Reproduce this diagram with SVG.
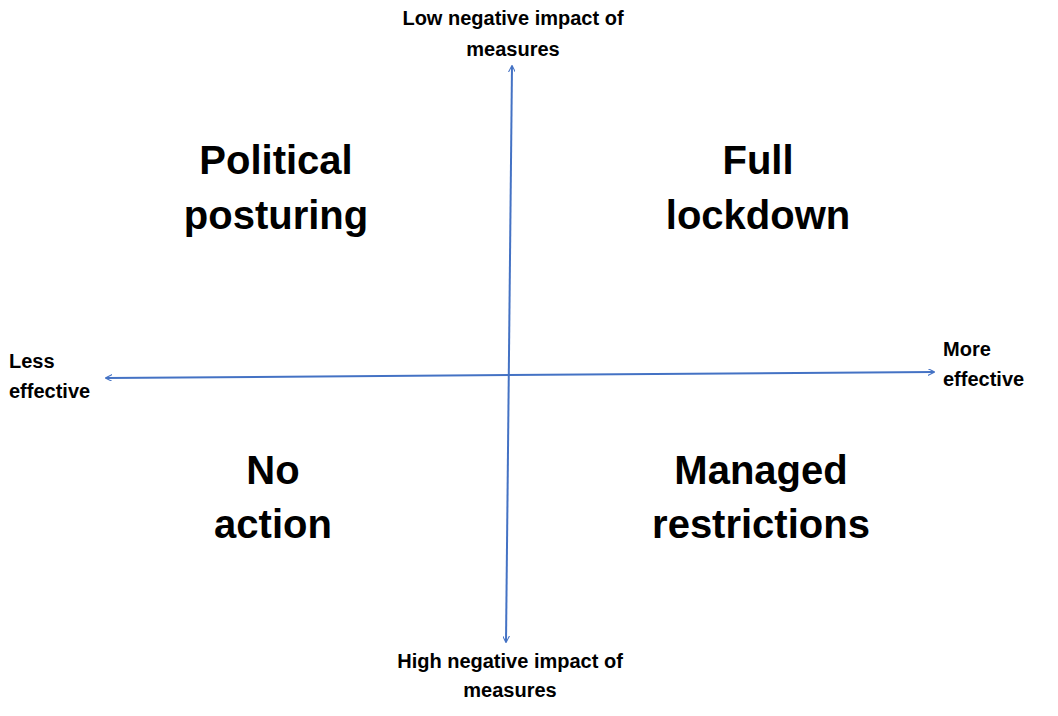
<svg xmlns="http://www.w3.org/2000/svg" width="1058" height="716" viewBox="0 0 1058 716">
<style>
.s{font-family:"Liberation Sans",Arial,sans-serif;font-weight:bold;font-size:20px;fill:#000}
.b{font-family:"Liberation Sans",Arial,sans-serif;font-weight:bold;font-size:40px;fill:#000;text-anchor:middle}
.ax{stroke:#4472C4;stroke-width:2;fill:none}
</style>
<defs>
<marker id="a" viewBox="0 0 10 10" refX="9" refY="5" markerWidth="7" markerHeight="7" orient="auto-start-reverse" markerUnits="userSpaceOnUse">
<path d="M0,0 L10,5 L0,10" fill="none" stroke="#4472C4" stroke-width="1.5"/>
</marker>
</defs>
<rect width="1058" height="716" fill="#fff"/>
<g id="connectors">
<line class="ax" x1="512" y1="66" x2="506" y2="642" marker-start="url(#a)" marker-end="url(#a)"/>
<line class="ax" x1="106" y1="378" x2="934" y2="372" marker-start="url(#a)" marker-end="url(#a)"/>
</g>
<g id="top"><text class="s" x="513" y="25" text-anchor="middle">Low negative impact of</text><text class="s" x="513" y="56" text-anchor="middle">measures</text></g>
<g id="bottom"><text class="s" x="510" y="668" text-anchor="middle">High negative impact of</text><text class="s" x="510" y="697" text-anchor="middle">measures</text></g>
<g id="left"><text class="s" x="9" y="368">Less</text><text class="s" x="9" y="398">effective</text></g>
<g id="right"><text class="s" x="943" y="356">More</text><text class="s" x="943" y="386">effective</text></g>
<g id="q1"><text class="b" x="276" y="174">Political</text><text class="b" x="276" y="229">posturing</text></g>
<g id="q2"><text class="b" x="758" y="174">Full</text><text class="b" x="758" y="229">lockdown</text></g>
<g id="q3"><text class="b" x="273" y="484">No</text><text class="b" x="273" y="538">action</text></g>
<g id="q4"><text class="b" x="761" y="484">Managed</text><text class="b" x="761" y="538">restrictions</text></g>
</svg>
